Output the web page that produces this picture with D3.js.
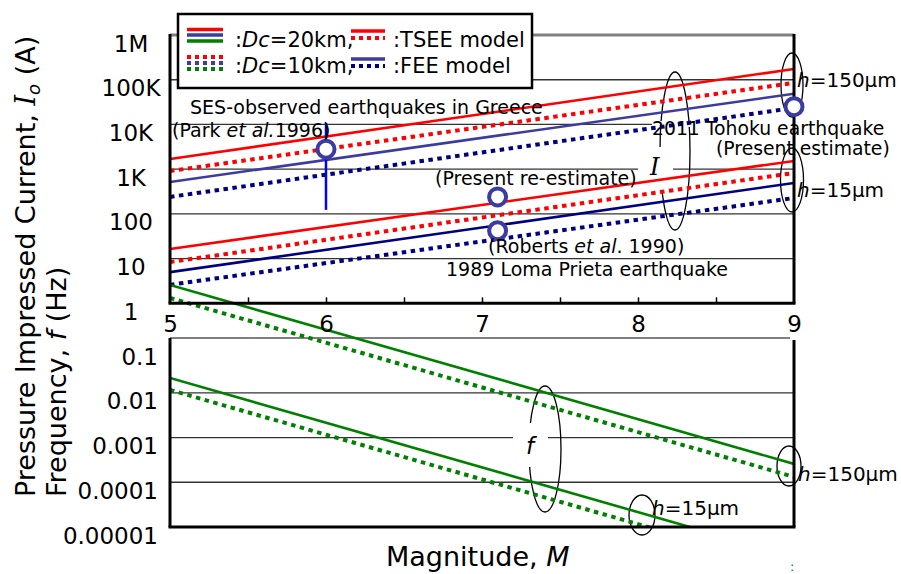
<!DOCTYPE html>
<html><head><meta charset="utf-8">
<script src="https://cdn.jsdelivr.net/npm/d3@7"></script>
<style>
body{margin:0;background:#fff}
svg{display:block}
text{font-family:"DejaVu Sans",Verdana,sans-serif;fill:#000}
</style>
</head><body>
<svg id="c" width="901" height="574"></svg>
<script>
// ---------------- data ----------------
const magnitudes = [5, 9];
// Pressure impressed current I_o (A), h = 150 μm
const tseeH150Dc20 = [1690, 174000];
const tseeH150Dc10 = [910, 85000];
const feeH150Dc20 = [518, 48500];
const feeH150Dc10 = [240, 23400];
// h = 15 μm
const tseeH15Dc20 = [16.4, 1530];
const tseeH15Dc10 = [8.4, 823];
const feeH15Dc20 = [5.0, 492];
const feeH15Dc10 = [2.6, 227];
// Frequency f (Hz)
const freqH150Dc20 = [2.58, 0.000257];
const freqH150Dc10 = [1.32, 0.000132];
const freqH15Dc20 = [0.0215, 0.00000215];
const freqH15Dc10 = [0.0116, 0.00000116];
// observed / estimated earthquakes
const obsNames = ["Greece SES", "Loma Prieta re-estimate", "Loma Prieta Roberts", "Tohoku"];
const obsM = [6, 7.1, 7.1, 9];
const obsI = [2800, 240, 42, 25000];
const greeceErr = [123, 10700];
// ticks
const currentTicks = [1, 10, 100, 1000, 10000, 100000, 1000000];
const currentTickLabels = ["1", "10", "100", "1K", "10K", "100K", "1M"];
const freqTicks = [0.1, 0.01, 0.001, 0.0001, 0.00001];
const freqTickLabels = ["0.1", "0.01", "0.001", "0.0001", "0.00001"];
const magTicks = [5, 6, 7, 8, 9];
const magMinorTicks = [5.5, 6, 6.5, 7, 7.5, 8, 8.5];

// ---------------- drawing ----------------
const svg = d3.select("#c");
const x = d3.scaleLinear().domain([5, 9]).range([170, 794]);
const y = d3.scaleLog().domain([1e-5, 1e6]).range([527, 35]);
const X0 = x(5), X1 = x(9);
const yOne = y(1), yLowTop = 338, yBot = y(1e-5), yTop = y(1e6);

const RED = "#ff0000", BLUE_L = "#3c3ca0", NAVY = "#000080", GREEN = "#008000";

svg.append("defs").append("clipPath").attr("id", "plotclip")
  .append("rect").attr("x", X0).attr("y", yTop).attr("width", X1 - X0).attr("height", yBot - yTop);

// gridlines (top panel)
svg.append("g").selectAll("line").data([10, 100, 1000, 10000, 100000]).join("line")
  .attr("x1", X0).attr("x2", X1).attr("y1", d => y(d)).attr("y2", d => y(d))
  .attr("stroke", "#333").attr("stroke-width", 1.3);
// gridlines (bottom panel)
svg.append("g").selectAll("line").data([0.01, 0.001, 0.0001]).join("line")
  .attr("x1", X0).attr("x2", X1).attr("y1", d => y(d)).attr("y2", d => y(d))
  .attr("stroke", "#333").attr("stroke-width", 1.3);
// top gray border (1M)
svg.append("line").attr("x1", X0).attr("x2", X1).attr("y1", y(1e6)).attr("y2", y(1e6))
  .attr("stroke", "#808080").attr("stroke-width", 3);
// lower panel top line
svg.append("line").attr("x1", X0).attr("x2", X1 - 4).attr("y1", yLowTop).attr("y2", yLowTop)
  .attr("stroke", "#555").attr("stroke-width", 1.3);

// ellipses
const ell = svg.append("g").attr("fill", "none").attr("stroke", "#000").attr("stroke-width", 1.3);
[[675, 151, 15, 79], [545, 449, 16, 63], [792, 85, 11, 32], [792, 180, 11.5, 32], [789, 466, 12, 20], [642, 515, 13, 20]]
  .forEach(e => ell.append("ellipse").attr("cx", e[0]).attr("cy", e[1]).attr("rx", e[2]).attr("ry", e[3]));
// white boxes behind I and f labels, and behind Tohoku label top
svg.append("rect").attr("x", 638).attr("y", 147).attr("width", 35).attr("height", 43).attr("fill", "#fff");
svg.append("rect").attr("x", 513).attr("y", 423).attr("width", 35).attr("height", 44).attr("fill", "#fff");
svg.append("rect").attr("x", 652).attr("y", 121).attr("width", 140).attr("height", 6).attr("fill", "#fff");

// series lines
const line = d3.line().x((d, i) => x(magnitudes[i])).y(d => y(d));
const series = [
  [tseeH150Dc20, RED, false], [tseeH150Dc10, RED, true],
  [feeH150Dc20, BLUE_L, false], [feeH150Dc10, NAVY, true],
  [tseeH15Dc20, RED, false], [tseeH15Dc10, RED, true],
  [feeH15Dc20, NAVY, false], [feeH15Dc10, NAVY, true],
  [freqH150Dc20, GREEN, false], [freqH150Dc10, GREEN, true],
  [freqH15Dc20, GREEN, false], [freqH15Dc10, GREEN, true]
];
const sg = svg.append("g").attr("clip-path", "url(#plotclip)");
series.forEach(s => {
  sg.append("path").attr("d", line(s[0])).attr("fill", "none").attr("stroke", s[1])
    .attr("stroke-width", s[2] ? 4 : 2.6)
    .attr("stroke-dasharray", s[2] ? "4.5,4.5" : null);
});

// axes frame
const frame = svg.append("g").attr("stroke", "#000").attr("stroke-width", 3).attr("fill", "none");
frame.append("line").attr("x1", X0).attr("x2", X0).attr("y1", yTop - 1).attr("y2", yOne);
frame.append("line").attr("x1", X1).attr("x2", X1).attr("y1", yTop - 1).attr("y2", yOne);
frame.append("line").attr("x1", X0).attr("x2", X0).attr("y1", yLowTop).attr("y2", yBot);
frame.append("line").attr("x1", X1).attr("x2", X1).attr("y1", yLowTop + 2).attr("y2", yBot);
frame.append("line").attr("x1", X0 - 1.5).attr("x2", X1 + 1.5).attr("y1", yOne).attr("y2", yOne);
frame.append("line").attr("x1", X0 - 1.5).attr("x2", X1 + 1.5).attr("y1", yBot).attr("y2", yBot);

// minor x ticks
const mt = svg.append("g").attr("transform", `translate(0,${yOne})`)
  .call(d3.axisBottom(x).tickValues(magMinorTicks).tickSize(-6).tickFormat(""));
mt.select(".domain").remove();
mt.selectAll("line").attr("stroke", "#000").attr("stroke-width", 1.5);

// x tick labels
const xa = svg.append("g").attr("transform", `translate(0,${yOne})`)
  .call(d3.axisBottom(x).tickValues(magTicks).tickSize(0).tickFormat(d3.format("d")));
xa.select(".domain").remove();
xa.selectAll("text").attr("dy", null).attr("y", 29).style("font-size", "23px")
  .style("font-family", '"DejaVu Sans",Verdana,sans-serif').attr("fill", "#000");

// y tick labels (current)
const ya = svg.append("g").attr("transform", "translate(131,0)")
  .call(d3.axisLeft(y).tickValues(currentTicks).tickSize(0).tickFormat((d, i) => currentTickLabels[i]));
ya.select(".domain").remove();
ya.selectAll("text").attr("x", 0).attr("dy", null).attr("y", 16).attr("text-anchor", "middle")
  .style("font-size", "23px").style("font-family", '"DejaVu Sans",Verdana,sans-serif').attr("fill", "#000");
// y tick labels (frequency)
const yb = svg.append("g").attr("transform", "translate(158,0)")
  .call(d3.axisLeft(y).tickValues(freqTicks).tickSize(0).tickFormat((d, i) => freqTickLabels[i]));
yb.select(".domain").remove();
yb.selectAll("text").attr("x", 0).attr("dy", null).attr("y", 16).attr("text-anchor", "end")
  .style("font-size", "23px").style("font-family", '"DejaVu Sans",Verdana,sans-serif').attr("fill", "#000");

// error bar for Greece
svg.append("line").attr("x1", x(obsM[0])).attr("x2", x(obsM[0]))
  .attr("y1", y(greeceErr[1])).attr("y2", y(greeceErr[0]))
  .attr("stroke", "#0000ff").attr("stroke-width", 2.5);
// markers
svg.append("g").selectAll("circle").data(obsM).join("circle")
  .attr("cx", d => x(d)).attr("cy", (d, i) => y(obsI[i])).attr("r", 8.5)
  .attr("fill", "#fff").attr("stroke", "#3b3ba3").attr("stroke-width", 4);

// annotations
function label(xp, yp, parts, size) {
  const t = svg.append("text").attr("x", xp).attr("y", yp).style("font-size", (size || 19) + "px");
  parts.forEach(p => {
    const sp = t.append("tspan").text(p[0]);
    if (p[1]) sp.style("font-style", "italic");
  });
  return t;
}
label(190, 114, [["SES-observed earthquakes in Greece"]]);
label(172, 137, [["(Park "], ["et al.", 1], ["1996)"]]);
label(435, 185, [["(Present re-estimate)"]]);
label(488, 253, [["(Roberts "], ["et al", 1], [". 1990)"]]);
label(446, 276, [["1989 Loma Prieta earthquake"]]);
label(652, 135, [["2011 Tohoku earthquake"]], 18.8);
label(716, 155, [["(Present estimate)"]], 18.8);
label(797, 87, [["h", 1], ["=150μm"]], 20);
label(797, 197, [["h", 1], ["=15μm"]], 20);
label(798, 481, [["h", 1], ["=150μm"]], 20);
label(652, 515, [["h", 1], ["=15μm"]], 20);
svg.append("text").attr("x", 650).attr("y", 175).style("font-size", "24px")
  .style("font-family", '"DejaVu Serif",serif').style("font-style", "italic").text("I");
svg.append("text").attr("x", 526).attr("y", 454).style("font-size", "23px")
  .style("font-style", "italic").text("f");

// axis titles
const t1 = svg.append("text").attr("transform", "translate(35,497) rotate(-90)").style("font-size", "27px");
t1.append("tspan").text("Pressure Impressed Current, ");
t1.append("tspan").style("font-family", '"DejaVu Serif",serif').style("font-style", "italic").text("I");
t1.append("tspan").style("font-style", "italic").style("font-size", "18px").attr("dy", 5).text("o");
t1.append("tspan").attr("dy", -5).text(" (A)");
const t2 = svg.append("text").attr("transform", "translate(66,497) rotate(-90)").style("font-size", "27px");
t2.append("tspan").text("Frequency, ");
t2.append("tspan").style("font-style", "italic").text("f");
t2.append("tspan").text(" (Hz)");
const t3 = svg.append("text").attr("x", 386).attr("y", 566).style("font-size", "27px");
t3.append("tspan").text("Magnitude, ");
t3.append("tspan").style("font-style", "italic").text("M");
svg.append("text").attr("x", 790).attr("y", 571).style("font-size", "13px").attr("fill", GREEN)
  .style("fill", GREEN).text(":");

// legend
const lg = svg.append("g");
lg.append("rect").attr("x", 178).attr("y", 14).attr("width", 354).attr("height", 74)
  .attr("fill", "#fff").attr("stroke", "#000").attr("stroke-width", 2.5);
function lline(x1, x2, yy, col, dotted) {
  lg.append("line").attr("x1", x1).attr("x2", x2).attr("y1", yy).attr("y2", yy)
    .attr("stroke", col).attr("stroke-width", dotted ? 4 : 3.5)
    .attr("stroke-dasharray", dotted ? "4,4" : null);
}
lline(187, 223, 29.5, RED); lline(187, 223, 35, BLUE_L); lline(187, 223, 41, GREEN);
lline(187, 223, 57, RED, 1); lline(187, 223, 63, BLUE_L, 1); lline(187, 223, 69, GREEN, 1);
lline(351, 385, 31, RED); lline(351, 385, 38, RED, 1);
lline(351, 385, 59, BLUE_L); lline(351, 385, 66, NAVY, 1);
function ltext(xp, yp, parts) {
  const t = lg.append("text").attr("x", xp).attr("y", yp).style("font-size", "21px");
  parts.forEach(p => { const s = t.append("tspan").text(p[0]); if (p[1]) s.style("font-style", "italic"); });
}
ltext(235, 47, [[":"], ["Dc", 1], ["=20km,"]]);
ltext(235, 73, [[":"], ["Dc", 1], ["=10km,"]]);
ltext(393, 47, [[":TSEE model"]]);
ltext(393, 73, [[":FEE model"]]);
</script>
</body></html>
